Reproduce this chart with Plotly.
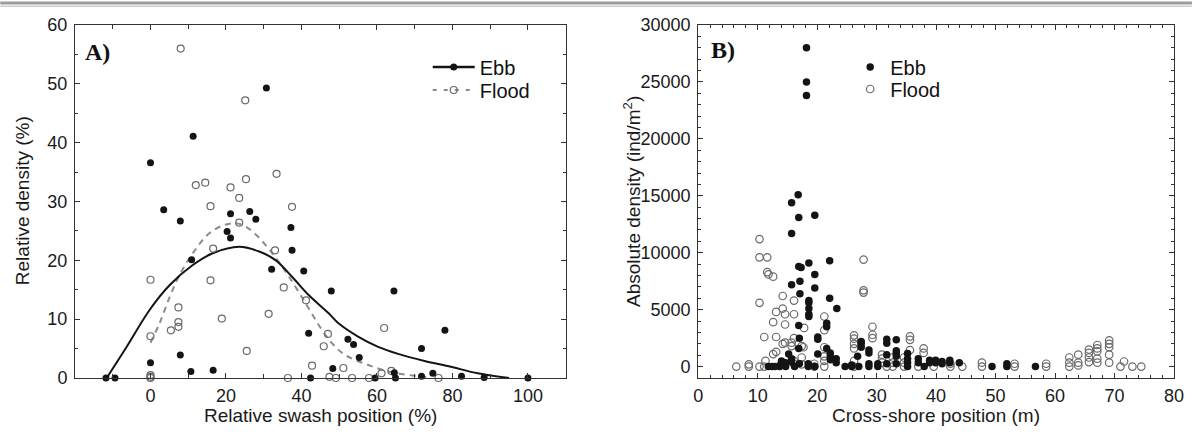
import plotly.graph_objects as go

# ---------------- Panel A data (relative swash position vs relative density) ----------------
ebb_a_x = [30.7, 11.3, 0, 3.5, 21.2, 26.3, 27.9, 7.9, 20.3, 21.2, 37.2, 37.5, 10.9, 32.1, 40.6,
           41.9, 7.9, 0, 10.7, 16.6, -11.8, -9.4, 42.4, 47.9, 64.5, 78.0, 52.3, 53.8, 55.3, 71.8,
           48.3, 64.6, 59.5, 64.9, 71.8, 74.8, 82.4, 88.4, 100]
ebb_a_y = [49.3, 41.1, 36.6, 28.6, 27.9, 28.3, 27.0, 26.7, 24.9, 23.8, 25.6, 21.7, 20.1, 18.5, 18.2,
           7.6, 3.9, 2.6, 1.1, 1.3, 0, 0, 0, 14.8, 14.8, 8.1, 6.6, 5.7, 3.5, 5.0,
           1.6, 0.9, 0, 0, 0.3, 0.8, 0.3, 0.1, 0]

flood_a_x = [8.0, 25.1, 33.4, 12.0, 14.5, 21.2, 25.3, 23.5, 15.9, 37.5, 23.5, 16.6, 33.0, 0, 15.9,
             35.3, 41.2, 7.4, 31.3, 18.9, 7.4, 7.4, 5.4, 0, 47.0, 45.9, 25.5, 42.8, 0, 0, 0, 36.4,
             61.9, 51.1, 61.2, 63.8, 47.4, 49.1, 53.4, 57.9, 76.3]
flood_a_y = [56.0, 47.2, 34.7, 32.8, 33.2, 32.4, 33.8, 30.6, 29.2, 29.1, 26.4, 22.0, 21.7, 16.7, 16.6,
             15.4, 13.2, 12.0, 10.9, 10.1, 9.5, 8.7, 8.1, 7.1, 7.5, 5.4, 4.6, 2.1, 0.5, 0.2, 0, 0,
             8.5, 1.7, 0.8, 1.2, 0.2, 0, 0, 0, 0]

# fitted curves
ebb_fit_x = [-11.6, -6.3, -0.2, 5.1, 11.2, 16.5, 23.5, 28.8, 33.2, 37.5, 41.9, 47.2, 49.8,
             55.1, 60.3, 65.6, 72.6, 79.6, 86.7, 95.0]
ebb_fit_y = [0, 5.3, 11.6, 15.8, 19.2, 21.2, 22.3, 21.5, 20.0, 17.2, 14.1, 11.0, 9.3,
             7.0, 5.3, 4.1, 2.9, 1.9, 0.8, 0]
flood_fit_x = [0, 2.4, 5.1, 7.7, 11.2, 15.6, 20.0, 23.5, 27.0, 32.3, 36.7, 41.1, 45.4, 48.1,
               51.6, 57.7, 63.8, 70.9, 74.4]
flood_fit_y = [6.0, 9.3, 13.8, 17.5, 21.2, 24.6, 26.1, 26.2, 24.9, 21.2, 17.2, 12.7, 8.2, 5.9,
               3.9, 2.2, 1.0, 0.3, 0]

# ---------------- Panel B data (cross-shore position vs absolute density) ----------------
ebb_b = [
    (18.2, 28000), (18.2, 25000), (18.2, 23800), (16.8, 15100), (15.7, 14400), (16.9, 13100),
    (19.6, 13300), (15.7, 11700), (22.1, 9300), (16.9, 8800), (17.3, 8700), (18.6, 9100),
    (19.6, 8100), (17.1, 7500), (15.7, 7200), (17.1, 6400), (19.6, 6900), (22.1, 6000),
    (18.6, 5800), (18.6, 5600), (18.6, 5100), (18.6, 4600), (18.6, 4400), (23.3, 5100),
    (16.9, 3600), (21.6, 3800), (21.6, 3500), (17.0, 2500), (20.1, 2600), (20.1, 2400),
    (15.2, 1100), (16.9, 1600), (20.1, 1100), (21.6, 1600), (22.2, 1200), (22.2, 900),
    (22.2, 600), (23.2, 700), (23.2, 350), (15.7, 700), (15.7, 400), (14.0, 500), (13.8, 150),
    (11.8, 0), (12.4, 0), (12.9, 0), (13.7, 0), (14.7, 350), (14.7, 0), (16.2, 0), (17.0, 250),
    (18.5, 250), (18.5, 0), (19.6, 0), (24.7, 0), (25.8, 150), (25.8, 0), (26.8, 900),
    (27.0, 0), (27.4, 2200), (27.4, 2000), (27.4, 1700), (28.7, 1450), (28.7, 1200),
    (28.7, 250), (28.7, 0), (30.2, 250), (30.2, 0), (31.7, 2400), (31.7, 2050), (31.7, 1050),
    (31.7, 250), (33.3, 2350), (33.3, 1400), (33.3, 1150), (33.3, 900), (33.3, 250),
    (35.2, 1150), (35.2, 700), (35.2, 350), (35.2, 0), (37.0, 700), (37.0, 350), (38.0, 0),
    (38.9, 550), (38.9, 350), (39.9, 550), (39.9, 350), (41.0, 450), (41.0, 250), (42.3, 550),
    (42.3, 350), (43.9, 350), (49.4, 0), (51.9, 250), (51.9, 0), (56.7, 0),
]
flood_b = [
    (10.3, 11200), (10.3, 9600), (11.6, 9600), (11.6, 8300), (11.8, 8100), (12.6, 7900),
    (10.3, 5600), (14.2, 6200), (16.1, 5800), (13.1, 4800), (14.2, 5100), (14.6, 4600),
    (16.1, 4600), (21.2, 4400), (12.6, 3900), (14.6, 3700), (17.8, 3400), (21.2, 3200),
    (11.1, 2600), (13.1, 2600), (16.1, 2500), (14.2, 2000), (14.6, 2100), (15.7, 2100),
    (15.7, 1800), (17.4, 1800), (17.7, 1700), (13.1, 1300), (12.6, 1100), (11.3, 500),
    (21.2, 1700), (21.2, 900), (17.4, 800), (16.1, 500), (16.1, 250), (17.4, 200), (19.5, 250),
    (19.5, 0), (21.2, 500), (21.2, 0), (6.4, 0), (8.5, 200), (8.5, 0), (10.3, 0), (11.1, 0),
    (27.8, 9400), (27.8, 6700), (27.8, 6500), (29.3, 3500), (29.3, 2800), (29.3, 2500),
    (26.2, 2750), (26.2, 2450), (26.2, 2000), (26.2, 1600), (26.2, 500), (26.2, 0),
    (30.9, 1050), (30.9, 700), (30.9, 350), (31.7, 0), (32.7, 800), (32.7, 350), (32.7, 0),
    (34.6, 800), (34.6, 350), (34.6, 0), (35.6, 2650), (35.6, 2350), (35.6, 1450), (37.0, 0),
    (37.9, 1600), (37.9, 1200), (39.6, 0), (42.4, 250), (42.4, 0), (44.4, 0), (47.7, 350),
    (47.7, 0), (53.2, 250), (53.2, 0), (58.5, 250), (58.5, 0), (62.4, 800), (62.4, 350),
    (62.4, 0), (63.9, 1050), (63.9, 350), (63.9, 100), (65.7, 1500), (65.7, 1200), (65.7, 800),
    (65.7, 400), (67.1, 1900), (67.1, 1600), (67.1, 1350), (67.1, 700), (67.1, 350),
    (69.1, 2300), (69.1, 2000), (69.1, 1700), (69.1, 1050), (69.1, 350), (71.0, 0), (71.6, 450),
    (73.0, 0), (74.5, 0),
]
ebb_b_x = [p[0] for p in ebb_b]
ebb_b_y = [p[1] for p in ebb_b]
flood_b_x = [p[0] for p in flood_b]
flood_b_y = [p[1] for p in flood_b]

xa_ticks = [0, 20, 40, 60, 80, 100]
xb_ticks = [0, 10, 20, 30, 40, 50, 60, 70, 80]
ya_ticks = [0, 10, 20, 30, 40, 50, 60]
yb_ticks = [0, 5000, 10000, 15000, 20000, 25000, 30000]

# ---------------- layout geometry ----------------
W, H = 1196, 446
ML, MR, MT, MB = 75, 18, 25, 68
PW, PH = W - ML - MR, H - MT - MB


def fx(px):
    return (px - ML) / PW


def fy(py):
    return (H - MB - py) / PH


FONT = "Liberation Sans, Arial, sans-serif"
BLACK = "#141414"
GREY = "#6a6a6a"
CURVE_GREY = "#8c8c8c"

fig = go.Figure()

# Panel A
fig.add_trace(go.Scatter(x=flood_fit_x, y=flood_fit_y, mode="lines", xaxis="x", yaxis="y",
                         line=dict(color=CURVE_GREY, width=2, dash="6px,5px", shape="spline", smoothing=1.0),
                         showlegend=False, hoverinfo="skip"))
fig.add_trace(go.Scatter(x=ebb_fit_x, y=ebb_fit_y, mode="lines", xaxis="x", yaxis="y",
                         line=dict(color=BLACK, width=2, shape="spline", smoothing=1.0),
                         showlegend=False, hoverinfo="skip"))
fig.add_trace(go.Scatter(x=flood_a_x, y=flood_a_y, mode="markers", xaxis="x", yaxis="y",
                         marker=dict(symbol="circle-open", size=7, color=GREY, line=dict(width=1.2, color=GREY)),
                         showlegend=False, cliponaxis=False))
fig.add_trace(go.Scatter(x=ebb_a_x, y=ebb_a_y, mode="markers", xaxis="x", yaxis="y",
                         marker=dict(symbol="circle", size=7, color=BLACK),
                         showlegend=False, cliponaxis=False))

# Panel B
fig.add_trace(go.Scatter(x=flood_b_x, y=flood_b_y, mode="markers", xaxis="x2", yaxis="y2",
                         marker=dict(symbol="circle-open", size=7.5, color=GREY, line=dict(width=1.2, color=GREY)),
                         showlegend=False, cliponaxis=False))
fig.add_trace(go.Scatter(x=ebb_b_x, y=ebb_b_y, mode="markers", xaxis="x2", yaxis="y2",
                         marker=dict(symbol="circle", size=7.5, color=BLACK),
                         showlegend=False, cliponaxis=False))

# legend entries (each in its own legend for exact placement)
fig.add_trace(go.Scatter(x=[None], y=[None], mode="lines+markers", name="Ebb", xaxis="x", yaxis="y",
                         line=dict(color=BLACK, width=2.5), marker=dict(symbol="circle", size=7, color=BLACK),
                         legend="legend"))
fig.add_trace(go.Scatter(x=[None], y=[None], mode="lines+markers", name="Flood", xaxis="x", yaxis="y",
                         line=dict(color=CURVE_GREY, width=2, dash="4px,7px"),
                         marker=dict(symbol="circle-open", size=7, color=GREY, line=dict(width=1.2, color=GREY)),
                         legend="legend2"))
fig.add_trace(go.Scatter(x=[None], y=[None], mode="markers", name="Ebb", xaxis="x2", yaxis="y2",
                         marker=dict(symbol="circle", size=7.5, color=BLACK), legend="legend3"))
fig.add_trace(go.Scatter(x=[None], y=[None], mode="markers", name="Flood", xaxis="x2", yaxis="y2",
                         marker=dict(symbol="circle-open", size=7.5, color=GREY, line=dict(width=1.2, color=GREY)),
                         legend="legend4"))

axis_common = dict(showline=True, linecolor="#333333", linewidth=1, mirror="ticks", ticks="inside",
                   ticklen=5, tickcolor="#333333", showgrid=False, zeroline=False,
                   tickfont=dict(family=FONT, size=18, color="#1a1a1a"))


def leg(px, py, iw=40):
    return dict(x=fx(px), y=fy(py), xanchor="left", yanchor="middle", bgcolor="rgba(0,0,0,0)",
                font=dict(family=FONT, size=20, color="#111"), itemwidth=iw, borderwidth=0)


fig.update_layout(
    width=W, height=H, margin=dict(l=ML, r=MR, t=MT, b=MB),
    paper_bgcolor="white", plot_bgcolor="white",
    font=dict(family=FONT, color="#111"),
    xaxis=dict(domain=[0, fx(567.5)], range=[-20, 110], tickmode="array", tickvals=xa_ticks,
               ticklabelstandoff=1,
               minor=dict(tickmode="linear", tick0=0, dtick=10, ticks="inside", ticklen=4, tickcolor="#333333"),
               anchor="y", **axis_common),
    yaxis=dict(domain=[0, 1], range=[0, 60], tickmode="array", tickvals=ya_ticks, ticklabelstandoff=3,
               minor=dict(tickmode="linear", tick0=0, dtick=5, ticks="inside", ticklen=3, tickcolor="#333333"),
               anchor="x", **axis_common),
    xaxis2=dict(domain=[fx(700.5), 1], range=[0, 80], tickmode="array", tickvals=xb_ticks,
                ticklabelstandoff=1,
                minor=dict(tickmode="linear", tick0=0, dtick=2, ticks="inside", ticklen=3, tickcolor="#333333"),
                anchor="y2", **axis_common),
    yaxis2=dict(domain=[0, 1], range=[-1000, 30000], tickmode="array", tickvals=yb_ticks, tickformat="d",
                ticklabelstandoff=3,
                minor=dict(tickmode="linear", tick0=0, dtick=1000, ticks="inside", ticklen=3, tickcolor="#333333"),
                anchor="x2", **axis_common),
    legend=leg(429, 67, 42),
    legend2=leg(429, 90, 42),
    legend3=leg(853, 67, 30),
    legend4=leg(853, 89, 30),
    showlegend=True,
)

annotations = [
    dict(text="Relative density (%)", x=fx(22), y=fy(201), textangle=-90),
    dict(text="Relative swash position (%)", x=fx(321), y=fy(416)),
    dict(text="Absolute density (ind/m<sup>2</sup>)", x=fx(634), y=fy(201), textangle=-90),
    dict(text="Cross-shore position (m)", x=fx(939), y=fy(416)),
]
for a in annotations:
    fig.add_annotation(xref="paper", yref="paper", showarrow=False, xanchor="center", yanchor="middle",
                       font=dict(family=FONT, size=19, color="#1a1a1a"), **a)

for lab, px, py in [("A)", 98, 52), ("B)", 725, 50)]:
    fig.add_annotation(xref="paper", yref="paper", showarrow=False, xanchor="center", yanchor="middle",
                       x=fx(px), y=fy(py), text="<b>" + lab + "</b>",
                       font=dict(family="Liberation Serif, Times New Roman, serif", size=24, color="#111"))

# page border lines at the very top
fig.add_shape(type="line", xref="paper", yref="paper", x0=fx(0), x1=fx(W), y0=fy(3), y1=fy(3),
              line=dict(color="#9c9c9c", width=3))
fig.add_shape(type="line", xref="paper", yref="paper", x0=fx(0), x1=fx(W), y0=fy(6.2), y1=fy(6.2),
              line=dict(color="#b4b4b4", width=1))

fig.write_html("out.html", config={"displayModeBar": False},
               post_script="document.body.style.margin='0px';document.body.style.overflow='hidden';")
